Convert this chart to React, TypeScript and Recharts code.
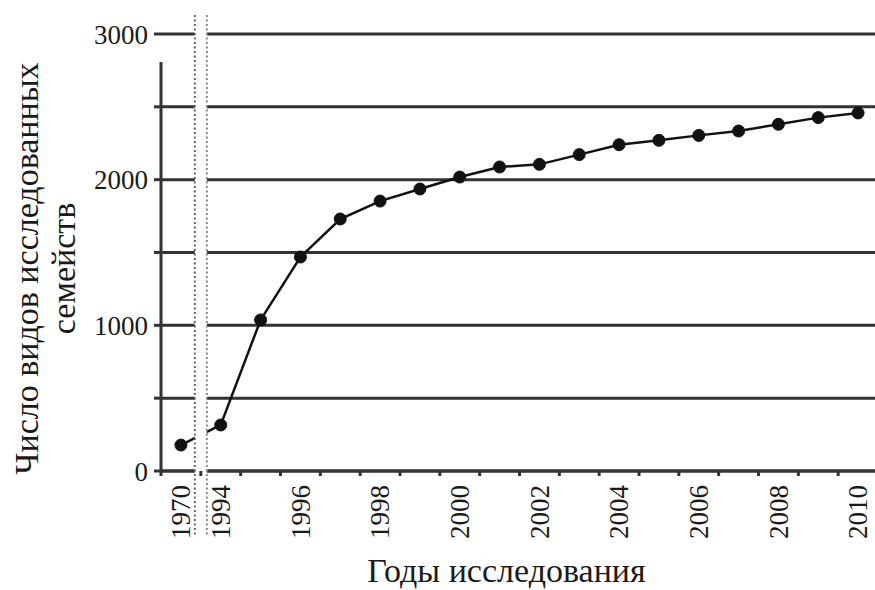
import { LineChart, Line, XAxis, YAxis, CartesianGrid, ReferenceArea } from "recharts";

const YEARS = [
  "1970", "1994", "1995", "1996", "1997", "1998", "1999", "2000", "2001",
  "2002", "2003", "2004", "2005", "2006", "2007", "2008", "2009", "2010",
];
const SPECIES = [
  178, 316, 1037, 1469, 1730, 1853, 1936, 2018, 2087,
  2105, 2172, 2240, 2270, 2304, 2334, 2380, 2426, 2458,
];
const LABELED_YEARS = [
  "1970", "1994", "1996", "1998", "2000", "2002", "2004", "2006", "2008", "2010",
];
const Y_TICKS = [0, 500, 1000, 1500, 2000, 2500, 3000];
const Y_LABELED = [0, 1000, 2000, 3000];

const X_TITLE = "Годы исследования";
const Y_TITLE = ["Число видов исследованных", "семейств"];

const data = YEARS.map((year, i) => ({ year, n: SPECIES[i] }));

const FONT = "Liberation Serif, Times New Roman, DejaVu Serif, serif";
const INK = "#1a1a1a";
const RULE = "#333";
const TICK_LEN = 4;
const TICK_GAP = 10;

function YearTick(props: any) {
  const { x, y, payload } = props;
  const half = payload.offset || 0;
  const axisY = y - TICK_LEN - TICK_GAP;
  return (
    <g>
      <line
        x1={x - half}
        x2={x - half}
        y1={axisY}
        y2={axisY + TICK_LEN + 1}
        stroke={RULE}
        strokeWidth={3}
      />
      {LABELED_YEARS.includes(payload.value) && (
        <text
          x={x}
          y={y}
          dy="0.34em"
          textAnchor="end"
          transform={`rotate(-90 ${x} ${y})`}
          style={{ fontSize: 27, fontFamily: FONT }}
          fill={INK}
        >
          {payload.value}
        </text>
      )}
    </g>
  );
}

function YTitle(props: any) {
  const vb = props.viewBox;
  const cy = vb.y + vb.height / 2 + 16;
  const xs = [vb.x + 28, vb.x + 65];
  return (
    <g>
      {Y_TITLE.map((line, i) => (
        <text
          key={i}
          x={xs[i]}
          y={cy}
          dy="0.3em"
          textAnchor="middle"
          transform={`rotate(-90 ${xs[i]} ${cy})`}
          style={{ fontSize: 34, fontFamily: FONT }}
          fill={INK}
        >
          {line}
        </text>
      ))}
    </g>
  );
}

function XTitle(props: any) {
  const vb = props.viewBox;
  return (
    <text
      x={vb.x + vb.width / 2 - 13}
      y={vb.y + vb.height - 8}
      textAnchor="middle"
      style={{ fontSize: 34, fontFamily: FONT }}
      fill={INK}
    >
      {X_TITLE}
    </text>
  );
}

// axis break between 1970 and 1994
function BreakMark(props: any) {
  const { x, y, width, height } = props;
  const cx = x + width / 2;
  const top = y - 19;
  const bottom = y + height + 66;
  return (
    <g>
      <rect x={cx - 6} y={top} width={12} height={bottom - top} fill="#fff" />
      <line x1={cx - 6} x2={cx - 6} y1={top} y2={bottom} stroke="#666" strokeWidth={2} strokeDasharray="2 2.5" />
      <line x1={cx + 6} x2={cx + 6} y1={top} y2={bottom} stroke="#888" strokeWidth={2} strokeDasharray="2 2.5" />
    </g>
  );
}

export default function App() {
  return (
    <div style={{ position: "absolute", left: 0, top: 0, width: 875, height: 590, background: "#fff", fontFamily: FONT }}>
      <LineChart width={875} height={590} data={data} margin={{ top: 34, right: -3, bottom: 0, left: 0 }}>
        <CartesianGrid vertical={false} stroke={RULE} strokeWidth={3} />
        <YAxis
          domain={[0, 3000]}
          ticks={Y_TICKS}
          interval={0}
          width={161}
          tickSize={7}
          tickMargin={6}
          tickLine={{ stroke: RULE, strokeWidth: 3 }}
          axisLine={{ stroke: RULE, strokeWidth: 3, strokeDasharray: "0 28 2000" }}
          tick={{ fontSize: 27, fontFamily: FONT, fill: INK, style: { fontFamily: FONT } }}
          tickFormatter={(v: number) => (Y_LABELED.includes(v) ? String(v) : "")}
          label={<YTitle />}
        />
        <XAxis
          dataKey="year"
          scale="band"
          interval={0}
          height={119}
          tickSize={TICK_LEN}
          tickMargin={TICK_GAP}
          tickLine={false}
          axisLine={{ stroke: RULE, strokeWidth: 3 }}
          tick={<YearTick />}
          label={<XTitle />}
        />
        <Line
          type="linear"
          dataKey="n"
          stroke="#111"
          strokeWidth={2.5}
          dot={{ r: 6, fill: "#111", stroke: "#111", strokeWidth: 1 }}
          isAnimationActive={false}
        />
        <ReferenceArea x1="1970" x2="1994" ifOverflow="visible" shape={<BreakMark />} zIndex={1000} />
      </LineChart>
    </div>
  );
}
